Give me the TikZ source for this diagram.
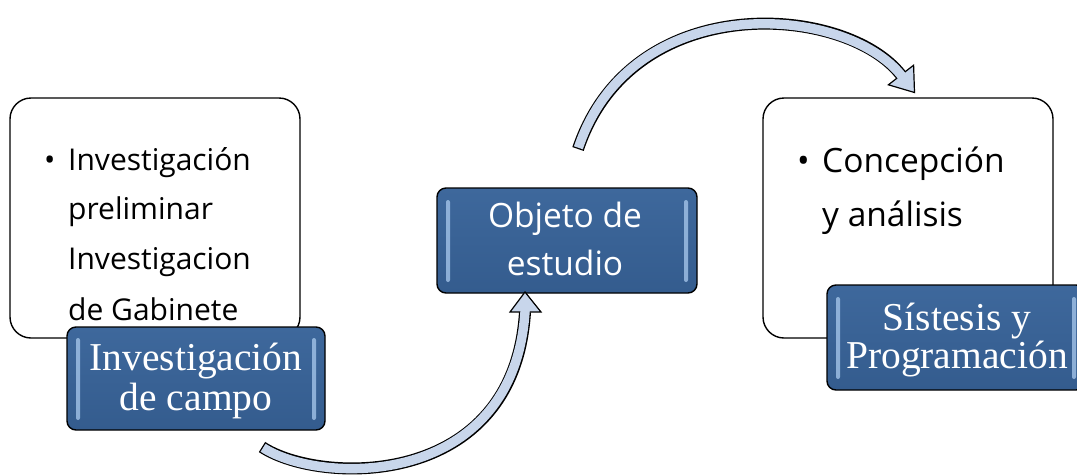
\documentclass[tikz,border=0pt]{standalone}
\usepackage{fontspec}
\newfontfamily\sansf{Open Sans}
\newfontfamily\seriff{Liberation Serif}
\definecolor{boxblue}{RGB}{52,92,142}
\definecolor{boxbluetop}{RGB}{62,104,156}
\definecolor{barblue}{RGB}{170,202,238}
\definecolor{arrowfill}{RGB}{200,214,235}
\begin{document}
\begin{tikzpicture}[x=1pt,y=-1pt,
  whitebox/.style={draw=black, line width=1.4pt, rounded corners=21pt, fill=white, inner sep=0pt},
  bluebox/.style={draw=black, line width=1.4pt, rounded corners=9pt, top color=boxbluetop, bottom color=boxblue, inner sep=0pt},
  hibar/.style={fill=barblue, rounded corners=2pt, opacity=0.75},
  sanstxt/.style={font=\sansf\fontsize{30}{36}\selectfont, inner sep=0pt},
  bigsans/.style={font=\sansf\fontsize{33.5}{40}\selectfont, inner sep=0pt},
  whitesans/.style={font=\sansf\fontsize{33.5}{40}\selectfont, inner sep=0pt, text=white},
  serifw/.style={font=\seriff\fontsize{39.5}{44}\selectfont, inner sep=0pt, text=white},
  shaftout/.style={draw=black, line width=12pt},
  shaftin/.style={draw=arrowfill, line width=9.4pt},
  headtip/.style={fill=arrowfill, draw=black, line width=1.2pt, line join=miter}
]
\useasboundingbox (0,0) rectangle (1077,475);

% left white box and its text
\node[whitebox, minimum width=290pt, minimum height=240pt] (prelim) at (155,218) {};
\node[sanstxt, anchor=base west] (b1) at (44,170) {•};
\node[sanstxt, anchor=base west] (t1) at (68,170) {Investigación};
\node[sanstxt, anchor=base west] (t2) at (68,219) {preliminar};
\node[sanstxt, anchor=base west] (t3) at (68,269) {Investigacion};
\node[sanstxt, anchor=base west] (t4) at (68,320) {de Gabinete};

% right white box and its text
\node[whitebox, minimum width=290pt, minimum height=240pt] (concep) at (908,218) {};
\node[bigsans, anchor=base west] (b2) at (797,172) {•};
\node[bigsans, anchor=base west] (r1) at (822,172) {Concepción};
\node[bigsans, anchor=base west] (r2) at (822,226) {y análisis};

% blue box: Investigacion de campo
\node[bluebox, minimum width=258pt, minimum height=103pt] (campo) at (196,378.5) {};
\fill[hibar] (76,338) rectangle (80,420);
\fill[hibar] (312,338) rectangle (316,420);
\node[serifw, anchor=base] (c1) at (196,370) {Investigación};
\node[serifw, anchor=base] (c2) at (196,410) {de campo};

% blue box: Objeto de estudio
\node[bluebox, minimum width=260pt, minimum height=105pt] (objeto) at (567,240.5) {};
\fill[hibar] (446,200) rectangle (450,282);
\fill[hibar] (684,200) rectangle (688,282);
\node[whitesans, anchor=base] (o1) at (565,227) {Objeto de};
\node[whitesans, anchor=base] (o2) at (565,275) {estudio};

% blue box: Sistesis y Programacion
\node[bluebox, minimum width=258pt, minimum height=105pt] (sintesis) at (956,337.5) {};
\fill[hibar] (836,297) rectangle (840,379);
\fill[hibar] (1072,297) rectangle (1076,379);
\node[serifw, anchor=base] (s1) at (957,330) {Sístesis y};
\node[serifw, anchor=base] (s2) at (957,368) {Programación};

% bottom curved arrow (campo -> objeto)
\coordinate (a1) at (262,447);
\coordinate (a2) at (525,312);
\draw[shaftout] (a1) .. controls (320,485) and (514,490) .. (a2);
\draw[headtip] (510,312) -- (525,292) -- (541,312) -- cycle;
\draw[shaftin, shorten <=1.3pt, shorten >=-1.5pt] (a1) .. controls (320,485) and (514,490) .. (a2);

% top curved arrow (objeto -> concep)
\coordinate (b1s) at (578,149);
\coordinate (b2s) at (901,75);
\draw[shaftout] (b1s) .. controls (632,-12) and (846,4) .. (b2s);
\draw[headtip] (888.4,84.8) -- (914.5,92.5) -- (913.6,65.2) -- cycle;
\draw[shaftin, shorten <=1.3pt, shorten >=-1.5pt] (b1s) .. controls (632,-12) and (846,4) .. (b2s);
\end{tikzpicture}
\end{document}
